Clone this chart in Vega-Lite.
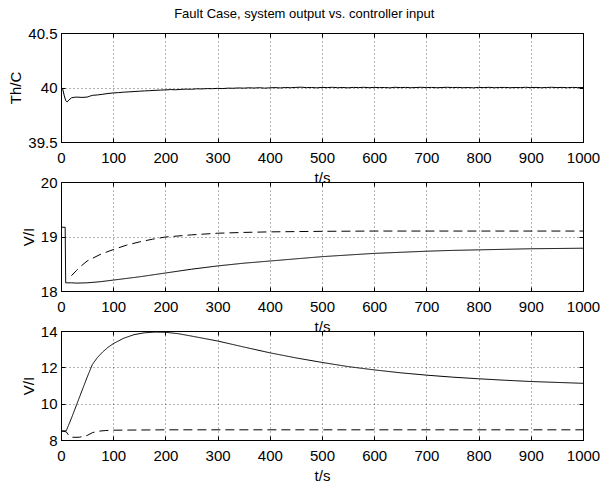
{
  "$schema": "https://vega.github.io/schema/vega-lite/v6.json",
  "autosize": {"type": "pad"},
  "padding": {"left": 8, "top": 7, "right": 5, "bottom": 2},
  "bounds": "flush",
  "spacing": 40,
  "title": {"text": "Fault Case, system output vs. controller input", "anchor": "middle", "fontSize": 13, "fontWeight": "normal", "color": "black", "offset": 5},
  "config": {
    "font": "Liberation Sans",
    "view": {"stroke": "black", "strokeWidth": 1},
    "axis": {
      "domainColor": "black", "domainWidth": 1,
      "tickColor": "black", "tickSize": -4,
      "labelColor": "black", "labelFontSize": 15, "labelPadding": 8,
      "labelFlush": false, "labelOverlap": false,
      "titleColor": "black", "titleFontSize": 15, "titleFontWeight": "normal",
      "grid": true, "gridColor": "black", "gridDash": [1, 3], "gridOpacity": 0.6
    },
    "axisX": {"labelPadding": 12, "titlePadding": 5, "format": "d"},
    "axisY": {"labelPadding": 8, "titlePadding": 4, "format": "~g"}
  },
  "datasets": {
    "temp": [
      {"t": 0, "v": 40.0, "s": "y"}, {"t": 3, "v": 39.99, "s": "y"}, {"t": 6, "v": 39.93, "s": "y"},
      {"t": 9, "v": 39.88, "s": "y"}, {"t": 12, "v": 39.868, "s": "y"}, {"t": 15, "v": 39.885, "s": "y"},
      {"t": 20, "v": 39.905, "s": "y"}, {"t": 25, "v": 39.91, "s": "y"}, {"t": 30, "v": 39.912, "s": "y"},
      {"t": 40, "v": 39.909, "s": "y"}, {"t": 50, "v": 39.912, "s": "y"}, {"t": 55, "v": 39.92, "s": "y"},
      {"t": 60, "v": 39.928, "s": "y"}, {"t": 70, "v": 39.932, "s": "y"}, {"t": 80, "v": 39.938, "s": "y"},
      {"t": 90, "v": 39.945, "s": "y"}, {"t": 100, "v": 39.95, "s": "y"}, {"t": 110, "v": 39.953, "s": "y"},
      {"t": 120, "v": 39.957, "s": "y"}, {"t": 130, "v": 39.96, "s": "y"}, {"t": 140, "v": 39.963, "s": "y"},
      {"t": 150, "v": 39.966, "s": "y"}, {"t": 160, "v": 39.969, "s": "y"}, {"t": 170, "v": 39.971, "s": "y"},
      {"t": 180, "v": 39.974, "s": "y"}, {"t": 190, "v": 39.976, "s": "y"}, {"t": 200, "v": 39.978, "s": "y"},
      {"t": 210, "v": 39.981, "s": "y"}, {"t": 220, "v": 39.979, "s": "y"}, {"t": 230, "v": 39.983, "s": "y"},
      {"t": 240, "v": 39.985, "s": "y"}, {"t": 250, "v": 39.984, "s": "y"}, {"t": 260, "v": 39.988, "s": "y"},
      {"t": 270, "v": 39.987, "s": "y"}, {"t": 280, "v": 39.99, "s": "y"}, {"t": 290, "v": 39.989, "s": "y"},
      {"t": 300, "v": 39.992, "s": "y"}, {"t": 310, "v": 39.99, "s": "y"}, {"t": 320, "v": 39.994, "s": "y"},
      {"t": 330, "v": 39.993, "s": "y"}, {"t": 340, "v": 39.996, "s": "y"}, {"t": 350, "v": 39.994, "s": "y"},
      {"t": 360, "v": 39.997, "s": "y"}, {"t": 370, "v": 39.995, "s": "y"}, {"t": 380, "v": 39.998, "s": "y"},
      {"t": 390, "v": 39.994, "s": "y"}, {"t": 400, "v": 39.997, "s": "y"}, {"t": 410, "v": 39.999, "s": "y"},
      {"t": 420, "v": 39.996, "s": "y"}, {"t": 430, "v": 40.0, "s": "y"}, {"t": 440, "v": 39.998, "s": "y"},
      {"t": 450, "v": 40.001, "s": "y"}, {"t": 460, "v": 40.003, "s": "y"}, {"t": 470, "v": 39.999, "s": "y"},
      {"t": 480, "v": 40.0, "s": "y"}, {"t": 490, "v": 39.997, "s": "y"}, {"t": 500, "v": 40.001, "s": "y"},
      {"t": 510, "v": 39.999, "s": "y"}, {"t": 520, "v": 40.002, "s": "y"}, {"t": 530, "v": 39.998, "s": "y"},
      {"t": 540, "v": 40.0, "s": "y"}, {"t": 550, "v": 39.997, "s": "y"}, {"t": 560, "v": 40.001, "s": "y"},
      {"t": 570, "v": 39.999, "s": "y"}, {"t": 580, "v": 40.002, "s": "y"}, {"t": 590, "v": 39.998, "s": "y"},
      {"t": 600, "v": 40.001, "s": "y"}, {"t": 610, "v": 39.999, "s": "y"}, {"t": 620, "v": 40.0, "s": "y"},
      {"t": 630, "v": 39.997, "s": "y"}, {"t": 640, "v": 40.002, "s": "y"}, {"t": 650, "v": 39.999, "s": "y"},
      {"t": 660, "v": 40.001, "s": "y"}, {"t": 670, "v": 39.998, "s": "y"}, {"t": 680, "v": 40.0, "s": "y"},
      {"t": 690, "v": 40.002, "s": "y"}, {"t": 700, "v": 39.999, "s": "y"}, {"t": 710, "v": 40.001, "s": "y"},
      {"t": 720, "v": 39.998, "s": "y"}, {"t": 730, "v": 40.0, "s": "y"}, {"t": 740, "v": 40.002, "s": "y"},
      {"t": 750, "v": 39.999, "s": "y"}, {"t": 760, "v": 40.001, "s": "y"}, {"t": 770, "v": 39.998, "s": "y"},
      {"t": 780, "v": 40.0, "s": "y"}, {"t": 790, "v": 39.997, "s": "y"}, {"t": 800, "v": 40.001, "s": "y"},
      {"t": 810, "v": 39.999, "s": "y"}, {"t": 820, "v": 40.002, "s": "y"}, {"t": 830, "v": 39.998, "s": "y"},
      {"t": 840, "v": 40.0, "s": "y"}, {"t": 850, "v": 40.001, "s": "y"}, {"t": 860, "v": 39.998, "s": "y"},
      {"t": 870, "v": 40.0, "s": "y"}, {"t": 880, "v": 39.999, "s": "y"}, {"t": 890, "v": 40.002, "s": "y"},
      {"t": 900, "v": 39.999, "s": "y"}, {"t": 910, "v": 40.001, "s": "y"}, {"t": 920, "v": 39.998, "s": "y"},
      {"t": 930, "v": 40.0, "s": "y"}, {"t": 940, "v": 40.002, "s": "y"}, {"t": 950, "v": 39.999, "s": "y"},
      {"t": 960, "v": 40.001, "s": "y"}, {"t": 970, "v": 39.998, "s": "y"}, {"t": 980, "v": 40.001, "s": "y"},
      {"t": 990, "v": 39.999, "s": "y"}, {"t": 1000, "v": 40.0, "s": "y"}
    ],
    "volt": [
      {"t": 0, "v": 19.17, "s": "actual"}, {"t": 8, "v": 19.17, "s": "actual"}, {"t": 9, "v": 18.15, "s": "actual"},
      {"t": 20, "v": 18.15, "s": "actual"}, {"t": 30, "v": 18.145, "s": "actual"}, {"t": 50, "v": 18.15, "s": "actual"},
      {"t": 75, "v": 18.17, "s": "actual"}, {"t": 100, "v": 18.2, "s": "actual"}, {"t": 150, "v": 18.26, "s": "actual"},
      {"t": 200, "v": 18.33, "s": "actual"}, {"t": 250, "v": 18.4, "s": "actual"}, {"t": 300, "v": 18.46, "s": "actual"},
      {"t": 350, "v": 18.51, "s": "actual"}, {"t": 400, "v": 18.55, "s": "actual"}, {"t": 450, "v": 18.59, "s": "actual"},
      {"t": 500, "v": 18.63, "s": "actual"}, {"t": 550, "v": 18.66, "s": "actual"}, {"t": 600, "v": 18.69, "s": "actual"},
      {"t": 650, "v": 18.71, "s": "actual"}, {"t": 700, "v": 18.73, "s": "actual"}, {"t": 750, "v": 18.745, "s": "actual"},
      {"t": 800, "v": 18.755, "s": "actual"}, {"t": 850, "v": 18.765, "s": "actual"}, {"t": 900, "v": 18.775, "s": "actual"},
      {"t": 950, "v": 18.78, "s": "actual"}, {"t": 1000, "v": 18.785, "s": "actual"},
      {"t": 20, "v": 18.28, "s": "command"}, {"t": 30, "v": 18.38, "s": "command"}, {"t": 40, "v": 18.47, "s": "command"},
      {"t": 50, "v": 18.55, "s": "command"}, {"t": 75, "v": 18.67, "s": "command"}, {"t": 100, "v": 18.76, "s": "command"},
      {"t": 125, "v": 18.84, "s": "command"}, {"t": 150, "v": 18.9, "s": "command"}, {"t": 175, "v": 18.95, "s": "command"},
      {"t": 200, "v": 18.99, "s": "command"}, {"t": 250, "v": 19.03, "s": "command"}, {"t": 300, "v": 19.06, "s": "command"},
      {"t": 350, "v": 19.075, "s": "command"}, {"t": 400, "v": 19.085, "s": "command"}, {"t": 500, "v": 19.095, "s": "command"},
      {"t": 600, "v": 19.1, "s": "command"}, {"t": 800, "v": 19.1, "s": "command"}, {"t": 1000, "v": 19.1, "s": "command"}
    ],
    "volt2": [
      {"t": 0, "v": 8.5, "s": "actual"}, {"t": 10, "v": 8.5, "s": "actual"}, {"t": 15, "v": 8.85, "s": "actual"},
      {"t": 20, "v": 9.2, "s": "actual"}, {"t": 30, "v": 9.95, "s": "actual"}, {"t": 40, "v": 10.7, "s": "actual"},
      {"t": 50, "v": 11.45, "s": "actual"}, {"t": 60, "v": 12.15, "s": "actual"}, {"t": 70, "v": 12.55, "s": "actual"},
      {"t": 80, "v": 12.85, "s": "actual"}, {"t": 90, "v": 13.1, "s": "actual"}, {"t": 100, "v": 13.3, "s": "actual"},
      {"t": 120, "v": 13.6, "s": "actual"}, {"t": 140, "v": 13.8, "s": "actual"}, {"t": 160, "v": 13.9, "s": "actual"},
      {"t": 180, "v": 13.94, "s": "actual"}, {"t": 200, "v": 13.93, "s": "actual"}, {"t": 225, "v": 13.85, "s": "actual"},
      {"t": 250, "v": 13.72, "s": "actual"}, {"t": 300, "v": 13.45, "s": "actual"}, {"t": 350, "v": 13.12, "s": "actual"},
      {"t": 400, "v": 12.8, "s": "actual"}, {"t": 450, "v": 12.52, "s": "actual"}, {"t": 500, "v": 12.27, "s": "actual"},
      {"t": 550, "v": 12.04, "s": "actual"}, {"t": 600, "v": 11.86, "s": "actual"}, {"t": 650, "v": 11.7, "s": "actual"},
      {"t": 700, "v": 11.57, "s": "actual"}, {"t": 750, "v": 11.46, "s": "actual"}, {"t": 800, "v": 11.37, "s": "actual"},
      {"t": 850, "v": 11.29, "s": "actual"}, {"t": 900, "v": 11.22, "s": "actual"}, {"t": 950, "v": 11.17, "s": "actual"},
      {"t": 1000, "v": 11.12, "s": "actual"},
      {"t": 0, "v": 8.5, "s": "command"}, {"t": 10, "v": 8.45, "s": "command"}, {"t": 15, "v": 8.25, "s": "command"},
      {"t": 20, "v": 8.15, "s": "command"}, {"t": 35, "v": 8.15, "s": "command"}, {"t": 50, "v": 8.25, "s": "command"},
      {"t": 60, "v": 8.4, "s": "command"}, {"t": 70, "v": 8.48, "s": "command"}, {"t": 85, "v": 8.52, "s": "command"},
      {"t": 100, "v": 8.54, "s": "command"}, {"t": 150, "v": 8.55, "s": "command"}, {"t": 200, "v": 8.56, "s": "command"},
      {"t": 500, "v": 8.56, "s": "command"}, {"t": 1000, "v": 8.56, "s": "command"}
    ]
  },
  "vconcat": [
    {
      "width": 522, "height": 109,
      "data": {"name": "temp"},
      "layer": [
        {
          "mark": {"type": "line", "color": "black", "strokeWidth": 1},
          "encoding": {
            "x": {"field": "t", "type": "quantitative", "scale": {"domain": [0, 1000], "nice": false},
                  "axis": {"values": [0, 100, 200, 300, 400, 500, 600, 700, 800, 900, 1000], "title": "t/s"}},
            "y": {"field": "v", "type": "quantitative", "scale": {"domain": [39.5, 40.5], "nice": false, "zero": false},
                  "axis": {"values": [39.5, 40, 40.5], "title": "Th/C"}}
          }
        },
        {
          "mark": {"type": "line", "opacity": 0},
          "encoding": {
            "x": {"field": "t", "type": "quantitative", "axis": {"orient": "top", "values": [0, 100, 200, 300, 400, 500, 600, 700, 800, 900, 1000], "labels": false, "grid": false, "domain": false, "title": null}},
            "y": {"field": "v", "type": "quantitative", "axis": {"orient": "right", "values": [39.5, 40, 40.5], "labels": false, "grid": false, "domain": false, "title": null}}
          }
        }
      ],
      "resolve": {"axis": {"x": "independent", "y": "independent"}}
    },
    {
      "width": 522, "height": 109,
      "data": {"name": "volt"},
      "layer": [
        {
          "mark": {"type": "line", "color": "black", "strokeWidth": 1},
          "encoding": {
            "x": {"field": "t", "type": "quantitative", "scale": {"domain": [0, 1000], "nice": false},
                  "axis": {"values": [0, 100, 200, 300, 400, 500, 600, 700, 800, 900, 1000], "title": "t/s"}},
            "y": {"field": "v", "type": "quantitative", "scale": {"domain": [18, 20], "nice": false, "zero": false},
                  "axis": {"values": [18, 19, 20], "title": "V/I"}},
            "detail": {"field": "s"},
            "strokeDash": {"field": "s", "type": "nominal", "scale": {"domain": ["actual", "command"], "range": [[1, 0], [9, 5]]}, "legend": null}
          }
        },
        {
          "mark": {"type": "line", "opacity": 0},
          "encoding": {
            "x": {"field": "t", "type": "quantitative", "axis": {"orient": "top", "values": [0, 100, 200, 300, 400, 500, 600, 700, 800, 900, 1000], "labels": false, "grid": false, "domain": false, "title": null}},
            "y": {"field": "v", "type": "quantitative", "axis": {"orient": "right", "values": [18, 19, 20], "labels": false, "grid": false, "domain": false, "title": null}},
            "detail": {"field": "s"}
          }
        }
      ],
      "resolve": {"axis": {"x": "independent", "y": "independent"}}
    },
    {
      "width": 522, "height": 109,
      "data": {"name": "volt2"},
      "layer": [
        {
          "mark": {"type": "line", "color": "black", "strokeWidth": 1},
          "encoding": {
            "x": {"field": "t", "type": "quantitative", "scale": {"domain": [0, 1000], "nice": false},
                  "axis": {"values": [0, 100, 200, 300, 400, 500, 600, 700, 800, 900, 1000], "title": "t/s"}},
            "y": {"field": "v", "type": "quantitative", "scale": {"domain": [8, 14], "nice": false, "zero": false},
                  "axis": {"values": [8, 10, 12, 14], "title": "V/I"}},
            "detail": {"field": "s"},
            "strokeDash": {"field": "s", "type": "nominal", "scale": {"domain": ["actual", "command"], "range": [[1, 0], [9, 5]]}, "legend": null}
          }
        },
        {
          "mark": {"type": "line", "opacity": 0},
          "encoding": {
            "x": {"field": "t", "type": "quantitative", "axis": {"orient": "top", "values": [0, 100, 200, 300, 400, 500, 600, 700, 800, 900, 1000], "labels": false, "grid": false, "domain": false, "title": null}},
            "y": {"field": "v", "type": "quantitative", "axis": {"orient": "right", "values": [8, 10, 12, 14], "labels": false, "grid": false, "domain": false, "title": null}},
            "detail": {"field": "s"}
          }
        }
      ],
      "resolve": {"axis": {"x": "independent", "y": "independent"}}
    }
  ]
}
